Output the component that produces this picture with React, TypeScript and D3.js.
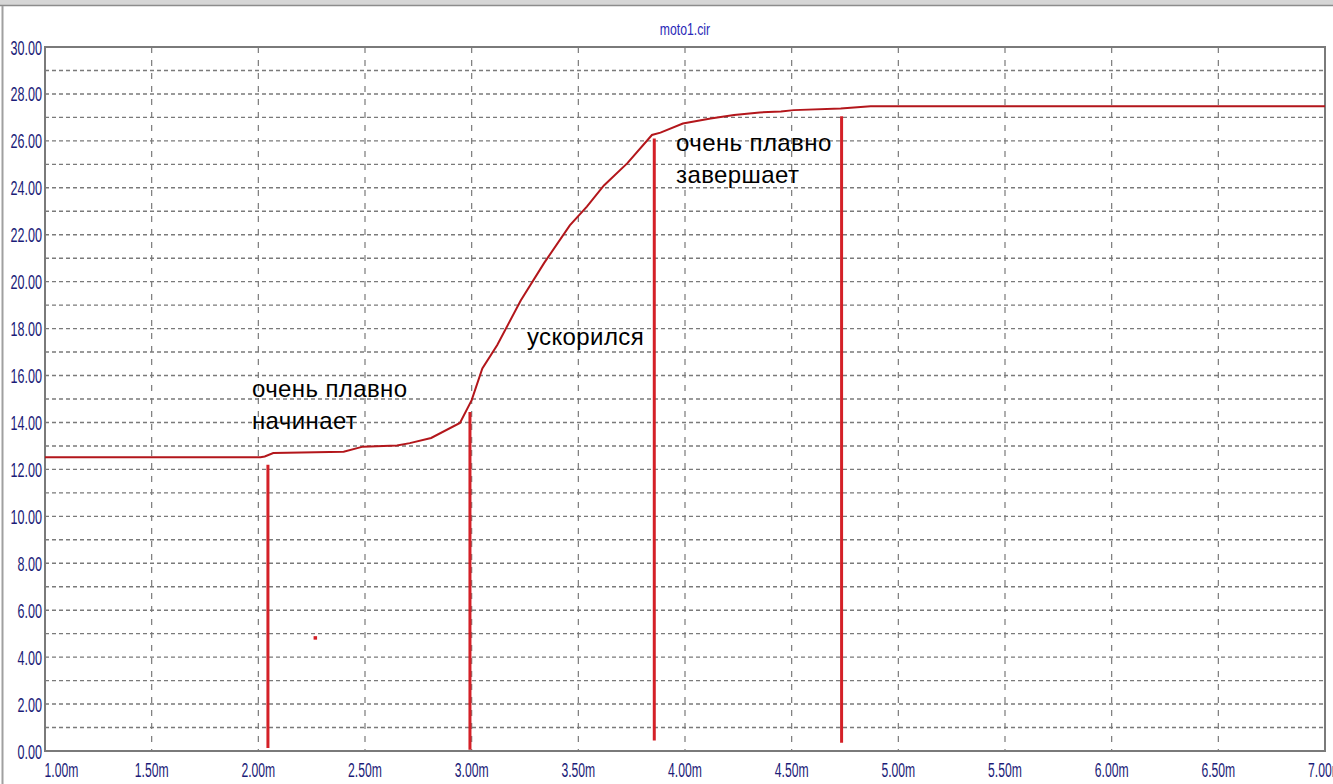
import React from "react";
import * as d3 from "d3";

// ---- data ----
const title = "moto1.cir";
const xTicks = [1.0, 1.5, 2.0, 2.5, 3.0, 3.5, 4.0, 4.5, 5.0, 5.5, 6.0, 6.5, 7.0];
const xTickLabels = ["1.00m", "1.50m", "2.00m", "2.50m", "3.00m", "3.50m", "4.00m", "4.50m", "5.00m", "5.50m", "6.00m", "6.50m", "7.00m"];
const yTicks = [0, 2, 4, 6, 8, 10, 12, 14, 16, 18, 20, 22, 24, 26, 28, 30];
const yTickLabels = yTicks.map((v) => v.toFixed(2));
const yMinorGrid = d3.range(1, 30, 1);

// curve (time in ms, value)
const curveT = [1.0, 2.01, 2.03, 2.07, 2.4, 2.49, 2.65, 2.71, 2.81, 2.945, 3.0, 3.05, 3.12, 3.23, 3.34, 3.46, 3.54, 3.62, 3.73, 3.845, 3.885, 3.99, 4.12, 4.23, 4.35, 4.45, 4.51, 4.73, 4.87, 7.0];
const curveV = [12.52, 12.52, 12.55, 12.7, 12.75, 12.97, 13.02, 13.12, 13.34, 13.98, 14.95, 16.3, 17.3, 19.2, 20.8, 22.4, 23.2, 24.1, 25.05, 26.25, 26.35, 26.74, 26.95, 27.1, 27.21, 27.25, 27.31, 27.38, 27.47, 27.47];

// vertical red markers
const markerT = [2.045, 2.992, 3.856, 4.734];
const markerTop = [12.2, 14.45, 26.1, 27.05];
const markerBottom = [0.13, 0.05, 0.45, 0.35];

// stray dot
const dotT = [2.266];
const dotV = [4.83];

// annotations
const notes = [
  { t: 1.97, v: 15.1, lines: ["очень плавно", "начинает"] },
  { t: 3.259, v: 17.3, lines: ["ускорился"] },
  { t: 3.958, v: 25.55, lines: ["очень плавно", "завершает"] },
];

const W = 1333;
const H = 784;
const M = { left: 45, right: 1325, top: 47, bottom: 751 };

const x = d3.scaleLinear().domain([1, 7]).range([M.left, M.right]);
const y = d3.scaleLinear().domain([0, 30]).range([M.bottom, M.top]);

const tickFont = "'Liberation Sans', Arial, sans-serif";
const tickColor = "#1c1c78";

export default function App() {
  const pts = curveT.map((t, i) => [t, curveV[i]] as [number, number]);
  const line = d3
    .line<[number, number]>()
    .x((d) => x(d[0]))
    .y((d) => y(d[1]));

  return (
    <svg
      width={W}
      height={H}
      style={{ position: "fixed", left: 0, top: 0, background: "#fff" }}
    >
      {/* window frame */}
      <rect x={0} y={0} width={W} height={5} fill="#d6d6d6" />
      <line x1={0} x2={W} y1={5.5} y2={5.5} stroke="#8c8c8c" strokeWidth={1.5} />
      <line x1={2.5} x2={2.5} y1={6} y2={H} stroke="#a0a0a0" strokeWidth={2} />

      {/* title */}
      <g transform="translate(685,35)">
        <text
          transform="scale(0.72,1)"
          textAnchor="middle"
          fontFamily={tickFont}
          fontSize={17}
          fill="#2a2ab8"
        >
          {title}
        </text>
      </g>

      {/* horizontal grid */}
      {yMinorGrid.map((v) => (
        <line
          key={"h" + v}
          x1={M.left}
          x2={M.right}
          y1={y(v)}
          y2={y(v)}
          stroke="#7a7a7a"
          strokeWidth={1.4}
          strokeDasharray="4,3"
        />
      ))}
      {/* vertical grid */}
      {xTicks.slice(1, -1).map((t) => (
        <line
          key={"v" + t}
          x1={x(t)}
          x2={x(t)}
          y1={M.top}
          y2={M.bottom}
          stroke="#7a7a7a"
          strokeWidth={1.2}
          strokeDasharray="6,7"
        />
      ))}

      {/* plot border */}
      <rect
        x={M.left}
        y={M.top}
        width={M.right - M.left}
        height={M.bottom - M.top}
        fill="none"
        stroke="#7a7a7a"
        strokeWidth={2}
      />

      {/* y tick labels */}
      {yTicks.map((v, i) => (
        <g key={"yl" + v} transform={`translate(42,${y(v) + 7.5})`}>
          <text
            transform="scale(0.6,1)"
            textAnchor="end"
            fontFamily={tickFont}
            fontSize={21}
            fill={tickColor}
          >
            {yTickLabels[i]}
          </text>
        </g>
      ))}

      {/* x tick labels */}
      {xTicks.map((t, i) => (
        <g
          key={"xl" + t}
          transform={`translate(${i === 0 ? M.left + 16.5 : x(t)},${777})`}
        >
          <text
            transform="scale(0.58,1)"
            textAnchor="middle"
            fontFamily={tickFont}
            fontSize={21}
            fill={tickColor}
          >
            {xTickLabels[i]}
          </text>
        </g>
      ))}

      {/* curve */}
      <path d={line(pts) || ""} fill="none" stroke="#b3161b" strokeWidth={2} />

      {/* markers */}
      {markerT.map((t, i) => (
        <line
          key={"m" + i}
          x1={x(t)}
          x2={x(t)}
          y1={y(markerTop[i])}
          y2={y(markerBottom[i])}
          stroke="#d42027"
          strokeWidth={3}
        />
      ))}

      {/* dot */}
      {dotT.map((t, i) => (
        <rect
          key={"d" + i}
          x={x(t) - 1.5}
          y={y(dotV[i]) - 1.5}
          width={3.5}
          height={3.5}
          fill="#d42027"
        />
      ))}

      {/* annotations */}
      {notes.map((n, i) => (
        <text
          key={"n" + i}
          fontFamily="'Liberation Sans', Arial, sans-serif"
          fontSize={24}
          letterSpacing={0.4}
          fill="#000"
        >
          {n.lines.map((l, j) => (
            <tspan key={j} x={x(n.t)} y={y(n.v) + j * 32}>
              {l}
            </tspan>
          ))}
        </text>
      ))}
    </svg>
  );
}
